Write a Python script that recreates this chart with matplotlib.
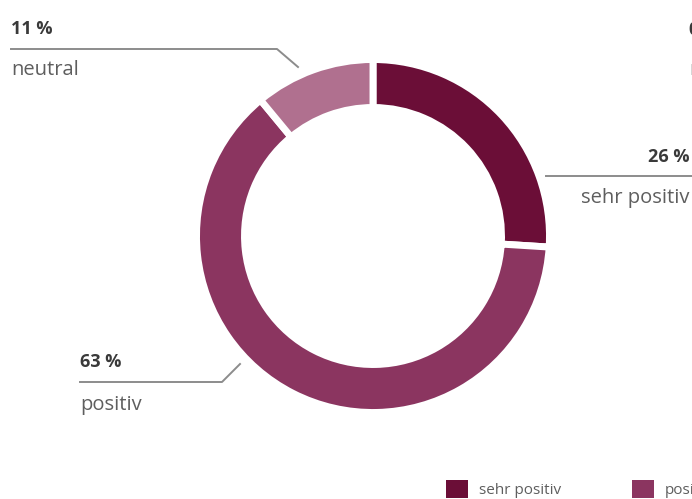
import matplotlib
matplotlib.use('Agg')
import matplotlib.pyplot as plt
from matplotlib.patches import Patch

# data
categories = ['sehr positiv', 'positiv', 'neutral', 'negativ']
shares = [26, 63, 11, 0]
colors = ['#6b0e37', '#8b3560', '#b0708f', '#d9b3c4']
pct_labels = ['26 %', '63 %', '11 %', '0 %']

W, H = 692, 499
plt.rcParams['font.family'] = ['Open Sans', 'DejaVu Sans']

fig = plt.figure(figsize=(W / 100, H / 100), dpi=100)
ax = fig.add_axes([0, 0, 1, 1])


def py(y):
    # pixel row (from top) -> data y
    return H - y


cx, cy = 373, 236
wedges, _ = ax.pie(shares[:3], radius=176.5, center=(cx, py(cy)), startangle=90,
                   counterclock=False, colors=colors[:3],
                   wedgeprops=dict(width=48, edgecolor='white', linewidth=5))

ax.set_xlim(0, W)
ax.set_ylim(0, H)
ax.set_aspect('equal')
ax.axis('off')

line_c = '#8c8c8c'
num_c = '#3a3a3a'
txt_c = '#5e5e5e'
fs_num, fs_txt = 13, 14.5

# neutral
ax.plot([11, 277, 298], [py(49), py(49), py(67)], color=line_c, lw=1.4)
ax.text(11, py(29), pct_labels[2], fontsize=fs_num, fontweight='bold', color=num_c, va='center', ha='left')
ax.text(11, py(70), categories[2], fontsize=fs_txt, color=txt_c, va='center', ha='left')

# sehr positiv
ax.plot([546, W], [py(176), py(176)], color=line_c, lw=1.4)
ax.text(689, py(157), pct_labels[0], fontsize=fs_num, fontweight='bold', color=num_c, va='center', ha='right')
ax.text(689, py(198), categories[0], fontsize=fs_txt, color=txt_c, va='center', ha='right')

# positiv
ax.plot([80, 222, 240], [py(382), py(382), py(364)], color=line_c, lw=1.4)
ax.text(80, py(362), pct_labels[1], fontsize=fs_num, fontweight='bold', color=num_c, va='center', ha='left')
ax.text(80, py(405), categories[1], fontsize=fs_txt, color=txt_c, va='center', ha='left')

# negativ (cut off at the right edge, as in the source)
ax.text(689, py(30), pct_labels[3], fontsize=fs_num, fontweight='bold', color=num_c, va='center', ha='left')
ax.text(689, py(70), categories[3], fontsize=fs_txt, color=txt_c, va='center', ha='left')

handles = [Patch(facecolor=c, edgecolor='none') for c in colors]
ax.legend(handles, categories, loc='upper left', bbox_to_anchor=(446, py(480)),
          bbox_transform=ax.transData, ncol=4, frameon=False, fontsize=11,
          handlelength=1.45, handleheight=1.45, handletextpad=0.7,
          columnspacing=4.65, labelcolor=txt_c, borderpad=0, borderaxespad=0)

fig.savefig('out.png', dpi=100)
